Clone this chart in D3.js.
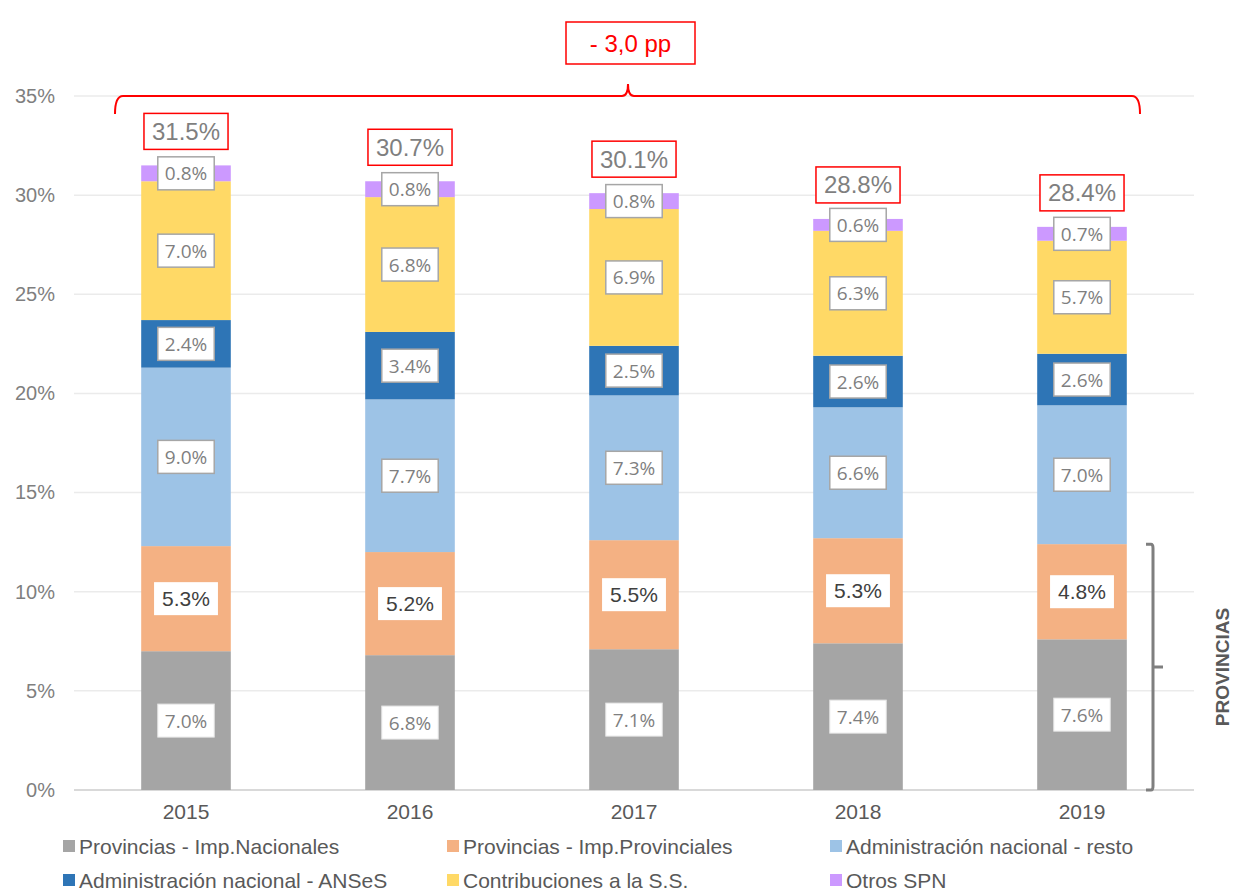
<!DOCTYPE html>
<html><head><meta charset="utf-8">
<script src="https://cdn.jsdelivr.net/npm/d3@7"></script>
<style>body{margin:0;background:#fff}svg{display:block}</style>
</head><body><svg id="c" width="1236" height="891"></svg>
<script>
const years = ["2015","2016","2017","2018","2019"];
const seriesNames = ["Provincias - Imp.Nacionales","Provincias - Imp.Provinciales","Administración nacional - resto","Administración nacional - ANSeS","Contribuciones a la S.S.","Otros SPN"];
const seriesColors = ["#a5a5a5","#f4b183","#9dc3e6","#2e75b6","#ffd966","#cc99ff"];
const impNacionales = [7.0,6.8,7.1,7.4,7.6];
const impProvinciales = [5.3,5.2,5.5,5.3,4.8];
const adminResto = [9.0,7.7,7.3,6.6,7.0];
const adminAnses = [2.4,3.4,2.5,2.6,2.6];
const contribSS = [7.0,6.8,6.9,6.3,5.7];
const otrosSPN = [0.8,0.8,0.8,0.6,0.7];
const totals = [31.5,30.7,30.1,28.8,28.4];
const yTicks = [0,5,10,15,20,25,30,35];
const changeLabel = "- 3,0 pp";
const bracketLabel = "PROVINCIAS";

const seriesValues = [impNacionales,impProvinciales,adminResto,adminAnses,contribSS,otrosSPN];
const rows = years.map((y,i)=>{const r={year:y};seriesNames.forEach((s,j)=>r[s]=seriesValues[j][i]);return r;});
const stack = d3.stack().keys(seriesNames)(rows);

const svg = d3.select("#c");
const x = d3.scaleBand().domain(years).range([74,1194]).paddingInner(0.6).paddingOuter(0.3);
const y = d3.scaleLinear().domain([0,35]).range([790,96]);
const arial = "Liberation Sans, Arial, sans-serif";

// gridlines
svg.append("g").selectAll("line").data(yTicks).join("line")
  .attr("x1",74).attr("x2",1194).attr("y1",d=>y(d)).attr("y2",d=>y(d))
  .attr("stroke",d=>d===0?"#d9d9d9":"#ebebeb").attr("stroke-width",d=>d===0?2:1.5);

// y axis labels
const yAxis = d3.axisLeft(y).tickValues(yTicks).tickFormat(d=>d+"%").tickSize(0).tickPadding(0);
const ya = svg.append("g").attr("transform","translate(55,0)").call(yAxis);
ya.select(".domain").remove();
ya.selectAll("text").attr("font-family",arial).attr("font-size",20).attr("fill","#7f7f7f");

// x axis labels
const xAxis = d3.axisBottom(x).tickSize(0).tickPadding(0);
const xa = svg.append("g").attr("transform","translate(0,804)").call(xAxis);
xa.select(".domain").remove();
xa.selectAll("text").attr("font-family",arial).attr("font-size",21).attr("fill","#595959").attr("dy","0.71em");

// bars
const layers = svg.append("g").selectAll("g").data(stack).join("g").attr("fill",(d,i)=>seriesColors[i]);
layers.selectAll("rect").data(d=>d).join("rect")
  .attr("x",d=>x(d.data.year)).attr("width",x.bandwidth())
  .attr("y",d=>y(d[1])).attr("height",d=>y(d[0])-y(d[1]));

// segment labels
function labelBox(g,cx,cy,text,opt){
  const t = g.append("text").attr("x",cx).attr("y",cy).attr("text-anchor","middle").attr("dominant-baseline","central")
    .attr("font-family",opt.font).attr("font-size",opt.size).attr("fill",opt.color).text(text);
  const w = t.node().getComputedTextLength();
  g.insert("rect","text").attr("x",cx-w/2-opt.padX).attr("y",cy-opt.h/2).attr("width",w+2*opt.padX).attr("height",opt.h)
    .attr("fill","#fff").attr("stroke",opt.stroke||"none").attr("stroke-width",opt.sw||0);
}
const lblFont = "Open Sans, Noto Sans, sans-serif";
stack.forEach((layer,si)=>{
  layer.forEach((d,i)=>{
    const cx = x(d.data.year)+x.bandwidth()/2;
    const cy = (y(d[0])+y(d[1]))/2;
    const g = svg.append("g");
    const txt = d3.format(".1f")(d[1]-d[0])+"%";
    if(si===0) labelBox(g,cx,cy,txt,{font:lblFont,size:19,color:"#7f7f7f",padX:7,h:33,stroke:"#e6e6e6",sw:1});
    else if(si===1) labelBox(g,cx,cy,txt,{font:arial,size:21,color:"#404040",padX:8,h:33});
    else labelBox(g,cx,cy,txt,{font:lblFont,size:19,color:"#7f7f7f",padX:7,h:33,stroke:"#a6a6a6",sw:1.5});
  });
});

// totals
totals.forEach((t,i)=>{
  const cx = x(years[i])+x.bandwidth()/2;
  const cy = y(t)-34;
  labelBox(svg.append("g"),cx,cy,d3.format(".1f")(t)+"%",{font:arial,size:24,color:"#7f7f7f",padX:8,h:36,stroke:"#ff0000",sw:1.5});
});

// red brace
const bx0 = 115, bx1 = 1140, by = y(35), bm = 628;
const bp = d3.path();
bp.moveTo(bx0,by+18); bp.quadraticCurveTo(bx0,by,bx0+8,by);
bp.lineTo(bm-6,by); bp.quadraticCurveTo(bm,by,bm,by-12); bp.quadraticCurveTo(bm,by,bm+6,by);
bp.lineTo(bx1-8,by); bp.quadraticCurveTo(bx1,by,bx1,by+18);
svg.append("path").attr("d",bp.toString()).attr("fill","none").attr("stroke","#ff0000").attr("stroke-width",2);

// change box
svg.append("rect").attr("x",566).attr("y",22).attr("width",129).attr("height",42).attr("fill","#fff").attr("stroke","#ff0000").attr("stroke-width",1.5);
svg.append("text").attr("x",630.5).attr("y",43).attr("text-anchor","middle").attr("dominant-baseline","central")
  .attr("font-family",arial).attr("font-size",24).attr("fill","#ff0000").text(changeLabel);

// gray bracket for provinces
const provTop = y(impNacionales[4]+impProvinciales[4]);
const gx = 1153, gb = y(0);
const gp = d3.path();
gp.moveTo(gx-7,provTop); gp.lineTo(gx-2,provTop); gp.quadraticCurveTo(gx,provTop,gx,provTop+4);
gp.lineTo(gx,gb-4); gp.quadraticCurveTo(gx,gb,gx-2,gb); gp.lineTo(gx-7,gb);
const gm = (provTop+gb)/2;
gp.moveTo(gx,gm); gp.lineTo(gx+10,gm);
svg.append("path").attr("d",gp.toString()).attr("fill","none").attr("stroke","#7f7f7f").attr("stroke-width",3);
svg.append("text").attr("transform",`translate(1229,${gm}) rotate(-90)`).attr("text-anchor","middle")
  .attr("font-family",arial).attr("font-size",19).attr("font-weight","bold").attr("fill","#595959").text(bracketLabel);

// legend
const legPos = [[63,846],[447,846],[830,846],[63,880],[447,880],[830,880]];
const leg = svg.append("g").selectAll("g").data(seriesNames).join("g")
  .attr("transform",(d,i)=>`translate(${legPos[i][0]},${legPos[i][1]})`);
leg.append("rect").attr("x",0).attr("y",-6).attr("width",12).attr("height",12).attr("fill",(d,i)=>seriesColors[i]);
leg.append("text").attr("x",16).attr("y",0).attr("dominant-baseline","central")
  .attr("font-family",arial).attr("font-size",21).attr("fill","#595959").text(d=>d);
</script></body></html>
